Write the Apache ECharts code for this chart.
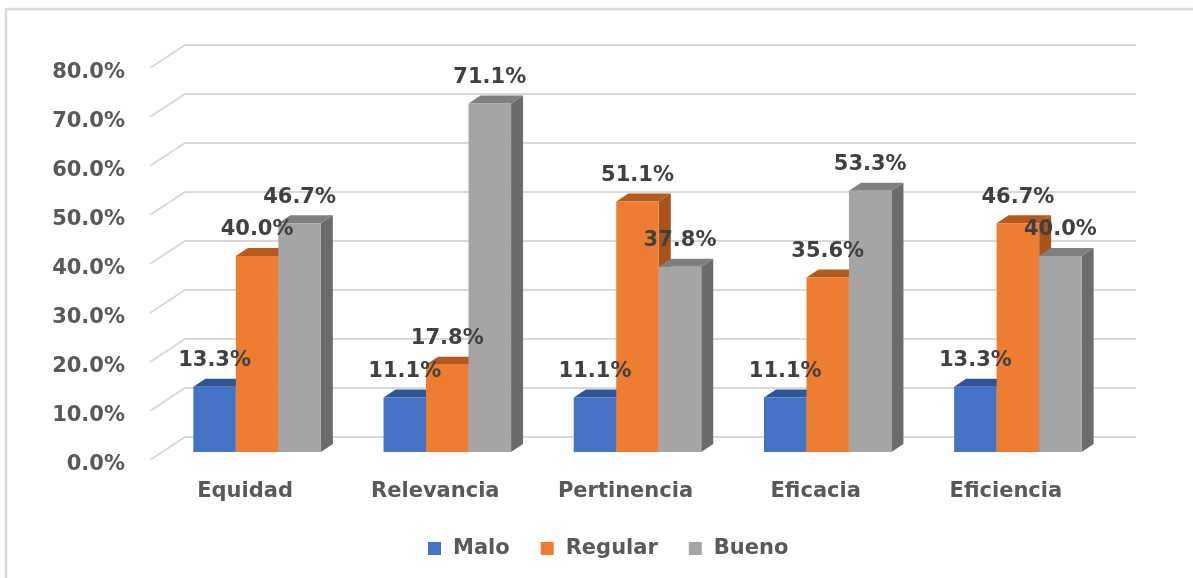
<!DOCTYPE HTML>
<html>
<head>
	<meta charset="utf-8" />
	<title>Evaluacion</title>
	<script src="https://cdn.jsdelivr.net/npm/echarts@6/dist/echarts.min.js"></script>
	<style>
		html, body { margin: 0; padding: 0; background: #fff; }
		#main { width: 1193px; height: 578px; }
	</style>
</head>
<body>
	<div id="main"></div>
	<script type="text/javascript">
		// data
		var categories = ["Equidad", "Relevancia", "Pertinencia", "Eficacia", "Eficiencia"];
		var seriesNames = ["Malo", "Regular", "Bueno"];
		var malo = [0.133, 0.111, 0.111, 0.111, 0.133];
		var regular = [0.400, 0.178, 0.511, 0.356, 0.467];
		var bueno = [0.467, 0.711, 0.378, 0.533, 0.400];
		var yTicks = [0, 0.1, 0.2, 0.3, 0.4, 0.5, 0.6, 0.7, 0.8];

		var allValues = [malo, regular, bueno];

		// face colours: front, top, side
		var faces = [
			["#4472c4", "#2f5597", "#2f5597"],
			["#ed7d31", "#b55a1e", "#a9531b"],
			["#a5a5a5", "#7f7f7f", "#6b6b6b"]
		];

		var BAR_W = 42.5;   // front face width
		var DX = 12, DY = 8;  // depth of each box
		var SHIFT_X = 12, SHIFT_Y = 8; // bars sit a bit behind the front plane
		var WALL_X = 35, WALL_Y = 23;  // back wall offset

		function pct(v) {
			return (v * 100).toFixed(1) + "%";
		}

		function barRenderer(si) {
			return function (params, api) {
				var c = api.value(0);
				var v = api.value(1);
				var top = api.coord([c, v]);
				var base = api.coord([c, 0]);
				var xl = top[0] + SHIFT_X + (si - 1.5) * BAR_W;
				var xr = xl + BAR_W;
				var yt = top[1] - SHIFT_Y;
				var yb = base[1] - SHIFT_Y;
				var f = faces[si];
				return {
					type: "group",
					children: [
						{
							type: "polygon",
							shape: { points: [[xr, yt], [xr + DX, yt - DY], [xr + DX, yb - DY], [xr, yb]] },
							style: { fill: f[2] }
						},
						{
							type: "polygon",
							shape: { points: [[xl, yt], [xl + DX, yt - DY], [xr + DX, yt - DY], [xr, yt]] },
							style: { fill: f[1] }
						},
						{
							type: "rect",
							shape: { x: xl, y: yt, width: BAR_W, height: yb - yt },
							style: { fill: f[0] }
						},
						{
							type: "text",
							z2: 100,
							x: xl + BAR_W / 2,
							y: yt - 26,
							style: {
								text: pct(v),
								fill: "#404040",
								font: "bold 21px 'DejaVu Sans'",
								align: "center",
								verticalAlign: "middle"
							}
						}
					]
				};
			};
		}

		function gridRenderer(params, api) {
			var v = api.value(1);
			var cs = params.coordSys;
			var y = api.coord([0, v])[1];
			var x0 = cs.x;
			var x1 = cs.x + cs.width;
			return {
				type: "polyline",
				shape: { points: [[x0, y], [x0 + WALL_X, y - WALL_Y], [x1 + WALL_X, y - WALL_Y]] },
				style: { stroke: "#d9d9d9", lineWidth: 2, fill: null }
			};
		}

		var series = [{
			type: "custom",
			name: "grid",
			z: 1,
			silent: true,
			renderItem: gridRenderer,
			encode: { x: 0, y: 1 },
			data: yTicks.map(function (t) { return [0, t]; })
		}];

		seriesNames.forEach(function (name, si) {
			series.push({
				type: "custom",
				name: name,
				z: 2,
				itemStyle: { color: faces[si][0] },
				renderItem: barRenderer(si),
				encode: { x: 0, y: 1 },
				data: allValues[si].map(function (v, c) { return [c, v]; })
			});
		});

		var myChart = echarts.init(document.getElementById("main"));

		var option = {
			animation: false,
			graphic: [{
				type: "polyline",
				shape: { points: [[6, 600], [6, 9], [1200, 9]] },
				style: { fill: null, stroke: "#d9d9d9", lineWidth: 2.5 },
				silent: true
			}],
			legend: {
				data: seriesNames,
				bottom: 14,
				left: 423,
				icon: "rect",
				itemWidth: 13,
				itemHeight: 13,
				itemGap: 31,
				textStyle: {
					color: "#595959",
					fontSize: 21,
					fontWeight: "bold",
					fontFamily: "DejaVu Sans",
					padding: [0, 0, 0, 7]
				}
			},
			grid: {
				left: 150,
				width: 951,
				top: 68,
				bottom: 118,
				containLabel: false
			},
			xAxis: {
				type: "category",
				data: categories,
				axisLine: { show: false },
				axisTick: { show: false },
				axisLabel: {
					color: "#595959",
					fontSize: 21,
					fontWeight: "bold",
					fontFamily: "DejaVu Sans",
					margin: 21
				}
			},
			yAxis: {
				type: "value",
				min: 0,
				max: 0.8,
				interval: 0.1,
				axisLine: { show: false },
				axisTick: { show: false },
				splitLine: { show: false },
				axisLabel: {
					color: "#595959",
					fontSize: 21,
					fontWeight: "bold",
					fontFamily: "DejaVu Sans",
					margin: 25,
					verticalAlign: "top",
					lineHeight: 9,
					formatter: function (v) { return pct(v); }
				}
			},
			series: series
		};

		myChart.setOption(option);
	</script>
</body>
</html>
